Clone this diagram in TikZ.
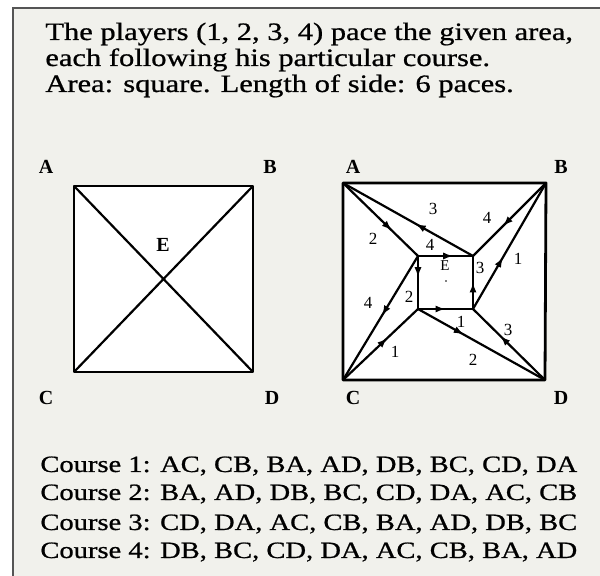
\documentclass[tikz,border=0pt]{standalone}
\usepackage{fontspec}
\setmainfont{Liberation Serif}
\newfontfamily\widefont[FakeStretch=1.22,FakeBold=0.8]{Liberation Serif}
\usetikzlibrary{arrows.meta,decorations.markings}
\definecolor{paper}{HTML}{F1F1EC}
\definecolor{framegray}{HTML}{555555}
\tikzset{
  edge/.style={line width=1.1pt, line join=round},
  border/.style={line width=1.4pt, line join=round},
  midarrow/.style={postaction={decorate},
    decoration={markings, mark=at position #1 with {\arrow{Latex[length=5pt,width=3.6pt]}}}},
  corner/.style={font=\fontsize{10}{12}\selectfont\bfseries, inner sep=0pt},
  num/.style={font=\fontsize{8.5}{9}\selectfont, inner sep=0pt},
  caption/.style={anchor=base west, inner sep=0pt, font=\widefont\fontsize{12.5}{14}\selectfont},
  courseline/.style={caption, font=\widefont\fontsize{11.7}{14}\selectfont}
}
\begin{document}
\begin{tikzpicture}[x=0.5pt, y=-0.5pt]
  \useasboundingbox (0,0) rectangle (600,576);
  %--- paper and frame ---
  \fill[paper] (13,8) rectangle (600,576);
  \draw[framegray, line width=1pt] (13,576) -- (13,8) -- (600,8);

  %--- heading ---
  \node[caption] (t1) at (45,40) {The players (1, 2, 3, 4) pace the given area,};
  \node[caption] (t2) at (45,66) {each following his particular course.};
  \node[caption] (t3) at (45,92) {Area: square. Length of side: 6 paces.};

  %--- left square ---
  \coordinate (LA) at (74,186);
  \coordinate (LB) at (253,186);
  \coordinate (LC) at (74,372);
  \coordinate (LD) at (253,372);
  \fill[white] (LA) rectangle (LD);
  \draw[border] (LA) -- (LB) -- (LD) -- (LC) -- cycle;
  \draw[edge] (LA) -- (LD);
  \draw[edge] (LB) -- (LC);
  \node[corner] (lA) at (46,167) {A};
  \node[corner] (lB) at (270,167) {B};
  \node[corner] (lC) at (46,398) {C};
  \node[corner] (lD) at (272,398) {D};
  \node[corner] (lE) at (163,245) {E};

  %--- right square ---
  \coordinate (RA) at (343,183);
  \coordinate (RB) at (546,183);
  \coordinate (RC) at (343,380);
  \coordinate (RD) at (545,380);
  \fill[white] (RA) rectangle (RD);
  \draw[border] (RA) -- (RB) -- (RD) -- (RC) -- cycle;
  \node[corner] (rA) at (353,167) {A};
  \node[corner] (rB) at (561,167) {B};
  \node[corner] (rC) at (353,398) {C};
  \node[corner] (rD) at (561,398) {D};

  % inner square round E
  \coordinate (iTL) at (418,256);
  \coordinate (iTR) at (473,256);
  \coordinate (iBL) at (418,309);
  \coordinate (iBR) at (473,309);
  \node[num, font=\fontsize{7.5}{9}\selectfont] (rE) at (445,266) {E};
  \fill (446,281) circle (0.8);

  % course 2: A -> E -> D
  \draw[edge, midarrow=0.65] (RA) -- (iTL);
  \draw[edge, midarrow=0.4] (iTL) -- (iBL);
  \draw[edge, midarrow=0.36] (iBL) -- (RD);
  % course 3: D -> E -> A
  \draw[edge, midarrow=0.62] (RD) -- (iBR);
  \draw[edge, midarrow=0.5] (iBR) -- (iTR);
  \draw[edge, midarrow=0.44] (iTR) -- (RA);
  % course 4: B -> E -> C
  \draw[edge, midarrow=0.59] (RB) -- (iTR);
  \draw[edge, midarrow=0.64] (iTL) -- (iTR);
  \draw[edge, midarrow=0.48] (iTL) -- (RC);
  % course 1: C -> E -> B
  \draw[edge, midarrow=0.59] (RC) -- (iBL);
  \draw[edge, midarrow=0.5] (iBL) -- (iBR);
  \draw[edge, midarrow=0.41] (iBR) -- (RB);

  % player numbers
  \node[num] (n2a) at (373,239) {2};
  \node[num] (n2b) at (409,297) {2};
  \node[num] (n2c) at (473,360) {2};
  \node[num] (n3a) at (433,209) {3};
  \node[num] (n3b) at (480,268) {3};
  \node[num] (n3c) at (508,330) {3};
  \node[num] (n4a) at (487,218) {4};
  \node[num] (n4b) at (430,245) {4};
  \node[num] (n4c) at (368,303) {4};
  \node[num] (n1a) at (395,352) {1};
  \node[num] (n1b) at (461,322) {1};
  \node[num] (n1c) at (518,259) {1};

  %--- courses ---
  \node[courseline] (c1) at (40,472) {Course 1: AC, CB, BA, AD, DB, BC, CD, DA};
  \node[courseline] (c2) at (40,500) {Course 2: BA, AD, DB, BC, CD, DA, AC, CB};
  \node[courseline] (c3) at (40,530) {Course 3: CD, DA, AC, CB, BA, AD, DB, BC};
  \node[courseline] (c4) at (40,558) {Course 4: DB, BC, CD, DA, AC, CB, BA, AD};
\end{tikzpicture}
\end{document}
